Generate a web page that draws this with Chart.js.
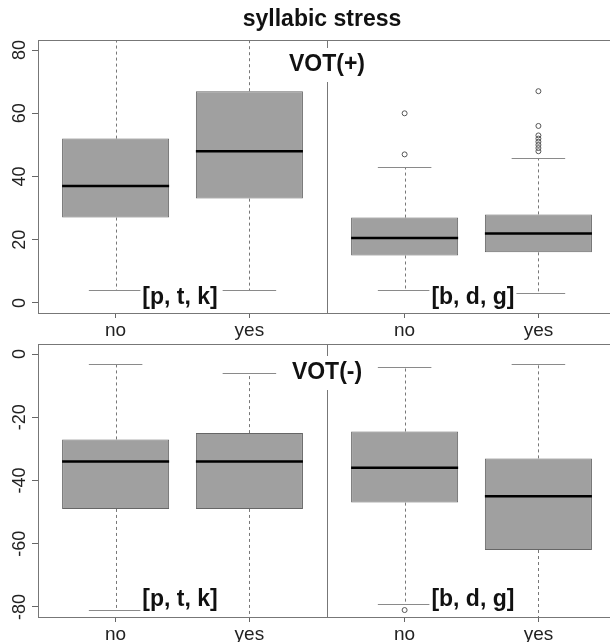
<!DOCTYPE html>
<html>
<head>
<meta charset="utf-8">
<script src="https://cdn.jsdelivr.net/npm/chart.js@4/dist/chart.umd.min.js"></script>
<style>
  html, body { margin: 0; padding: 0; background: #fff; overflow: hidden; }
  #wrap { position: relative; width: 610px; height: 642px; }
  canvas { position: absolute; left: 0; }
</style>
</head>
<body>
<div id="wrap">
  <canvas id="top" width="610" height="345" style="top:0"></canvas>
  <canvas id="bottom" width="610" height="312" style="top:330px"></canvas>
</div>
<script>
// categories: two consonant groups, each split by stress (no / yes)
const groups = ['[p, t, k]', '[b, d, g]'];
const xLabels = ['no', 'yes', 'no', 'yes'];
const xPos = [1, 2, 3.16, 4.16];
const divider = 2.58;

// VOT(+) panel
const posLow = [4, 4, 4, 3];
const posQ1 = [27, 33, 15, 16];
const posMed = [37, 48, 20.5, 22];
const posQ3 = [52, 67, 27, 28];
const posHigh = [95, 95, 43, 46];   // first two run off the top of the plot
const posOut = [[], [], [60, 47], [67, 56, 53, 52, 51, 50, 49, 48]];
const posTicks = [0, 20, 40, 60, 80];

// VOT(-) panel
const negLow = [-81, -95, -79, -95]; // 2nd and 4th run off the bottom
const negQ1 = [-49, -49, -47, -62];
const negMed = [-34, -34, -36, -45];
const negQ3 = [-27, -25, -24.5, -33];
const negHigh = [-3, -6, -4, -3];
const negOut = [[], [], [-81], []];
const negTicks = [0, -20, -40, -60, -80];

const FONT = '"Liberation Sans", Arial, Helvetica, sans-serif';

function hline(ctx, x1, x2, y) {
    ctx.beginPath(); ctx.moveTo(x1, y); ctx.lineTo(x2, y); ctx.stroke();
}
function vline(ctx, x, y1, y2) {
    ctx.beginPath(); ctx.moveTo(x, y1); ctx.lineTo(x, y2); ctx.stroke();
}
function crisp(v) { return Math.round(v) + 0.5; }

function boldText(ctx, text, px, py, align, padX, padY) {
    ctx.font = 'bold 23px ' + FONT;
    const w = ctx.measureText(text).width;
    const left = align === 'left' ? px : px - w / 2;
    ctx.fillStyle = '#fff';
    ctx.fillRect(left - padX, py - padY, w + padX * 2, padY * 2);
    ctx.fillStyle = '#111';
    ctx.textAlign = 'left';
    ctx.textBaseline = 'middle';
    ctx.fillText(text, left, py);
}

const boxExtras = {
    id: 'boxExtras',
    afterDatasetsDraw(chart, args, o) {
        const {ctx, chartArea: a, scales: {x, y}} = chart;
        ctx.save();
        ctx.beginPath();
        ctx.rect(a.left, a.top, a.right - a.left, a.bottom - a.top);
        ctx.clip();
        xPos.forEach((xv, i) => {
            const cx = crisp(x.getPixelForValue(xv));
            const capL = x.getPixelForValue(xv - 0.2), capR = x.getPixelForValue(xv + 0.2);
            const yLo = crisp(y.getPixelForValue(o.low[i]));
            const yHi = crisp(y.getPixelForValue(o.high[i]));
            const yQ1 = y.getPixelForValue(o.q1[i]);
            const yQ3 = y.getPixelForValue(o.q3[i]);
            // whiskers
            ctx.strokeStyle = '#777';
            ctx.lineWidth = 1;
            ctx.setLineDash([3, 3]);
            vline(ctx, cx, yQ3, yHi);
            vline(ctx, cx, yQ1, yLo);
            ctx.setLineDash([]);
            ctx.strokeStyle = '#8a8a8a';
            hline(ctx, capL, capR, yHi);
            hline(ctx, capL, capR, yLo);
            // median
            ctx.strokeStyle = '#000';
            ctx.lineWidth = 2.5;
            const ym = y.getPixelForValue(o.med[i]);
            hline(ctx, x.getPixelForValue(xv - 0.4), x.getPixelForValue(xv + 0.4), ym);
        });
        ctx.restore();
    },
    afterDraw(chart, args, o) {
        const {ctx, chartArea: a, scales: {x, y}} = chart;
        ctx.save();
        // frame + divider between the two consonant groups
        ctx.strokeStyle = '#777';
        ctx.lineWidth = 1;
        ctx.strokeRect(crisp(a.left), crisp(a.top), a.right - a.left, Math.round(a.bottom - a.top));
        vline(ctx, crisp(x.getPixelForValue(divider)), a.top, a.bottom);

        // rotated y tick labels
        ctx.fillStyle = '#222';
        ctx.font = '18px ' + FONT;
        ctx.textAlign = 'center';
        ctx.textBaseline = 'alphabetic';
        o.yTicks.forEach(v => {
            ctx.save();
            ctx.translate(a.left - 13, y.getPixelForValue(v));
            ctx.rotate(-Math.PI / 2);
            ctx.fillText(String(v), 0, 0);
            ctx.restore();
        });

        if (o.title) {
            ctx.font = 'bold 23px ' + FONT;
            ctx.fillStyle = '#111';
            ctx.textAlign = 'center';
            ctx.textBaseline = 'middle';
            ctx.fillText(o.title, x.getPixelForValue(divider) - 5, a.top - 20);
        }
        boldText(ctx, o.vot, x.getPixelForValue(divider), a.top + o.votDy, 'center', 5, 17);
        groups.forEach((g, gi) => {
            boldText(ctx, g, x.getPixelForValue(xPos[gi * 2] + 0.2), a.bottom + o.tagDy, 'left', 2, 12);
        });
        ctx.restore();
    }
};

function makePanel(id, p) {
    const outliers = [];
    p.out.forEach((list, i) => list.forEach(v => outliers.push({x: xPos[i], y: v})));

    return new Chart(document.getElementById(id), {
        type: 'bar',
        data: {
            datasets: [{
                type: 'bar',
                data: xPos.map((xv, i) => ({x: xv, y: [p.q1[i], p.q3[i]]})),
                backgroundColor: '#a0a0a0',
                borderColor: '#666',
                borderWidth: 1,
                borderSkipped: false,
                barPercentage: 1,
                categoryPercentage: 0.8
            }, {
                type: 'scatter',
                data: outliers,
                pointStyle: 'circle',
                pointRadius: 2.5,
                borderColor: '#555',
                backgroundColor: 'rgba(0,0,0,0)',
                borderWidth: 1
            }]
        },
        options: {
            responsive: false,
            animation: false,
            layout: { autoPadding: false, padding: { top: p.padTop, left: 0, right: 0, bottom: 0 } },
            plugins: {
                legend: { display: false },
                tooltip: { enabled: false },
                boxExtras: {
                    low: p.low, q1: p.q1, med: p.med, q3: p.q3, high: p.high,
                    yTicks: p.yTicks, vot: p.vot, votDy: p.votDy, tagDy: p.tagDy, title: p.title
                }
            },
            scales: {
                x: {
                    type: 'linear',
                    offset: false,
                    min: 0.42,
                    max: 4.695,
                    afterBuildTicks: s => { s.ticks = xPos.map(v => ({value: v})); },
                    afterFit: s => { s.height = p.xHeight; },
                    ticks: {
                        autoSkip: false,
                        maxRotation: 0,
                        padding: 1,
                        color: '#222',
                        font: { family: FONT, size: 19 },
                        callback: (v, i) => xLabels[i]
                    },
                    grid: { offset: false, drawOnChartArea: false, tickLength: 5, color: '#666' },
                    border: { display: false }
                },
                y: {
                    min: p.yMin,
                    max: p.yMax,
                    afterBuildTicks: s => { s.ticks = p.yTicks.map(v => ({value: v})); },
                    afterFit: s => { s.width = 38; },
                    ticks: { display: false },
                    grid: { drawOnChartArea: false, tickLength: 6, color: '#666' },
                    border: { display: false }
                }
            }
        },
        plugins: [boxExtras]
    });
}

makePanel('top', {
    low: posLow, q1: posQ1, med: posMed, q3: posQ3, high: posHigh, out: posOut,
    yTicks: posTicks, yMin: -3.2, yMax: 83.2,
    padTop: 40, xHeight: 32, title: 'syllabic stress',
    vot: 'VOT(+)', votDy: 25, tagDy: -15
});

makePanel('bottom', {
    low: negLow, q1: negQ1, med: negMed, q3: negQ3, high: negHigh, out: negOut,
    yTicks: negTicks, yMin: -83.2, yMax: 3.2,
    padTop: 14, xHeight: 25, title: null,
    vot: 'VOT(-)', votDy: 29, tagDy: -17
});
</script>
</body>
</html>
